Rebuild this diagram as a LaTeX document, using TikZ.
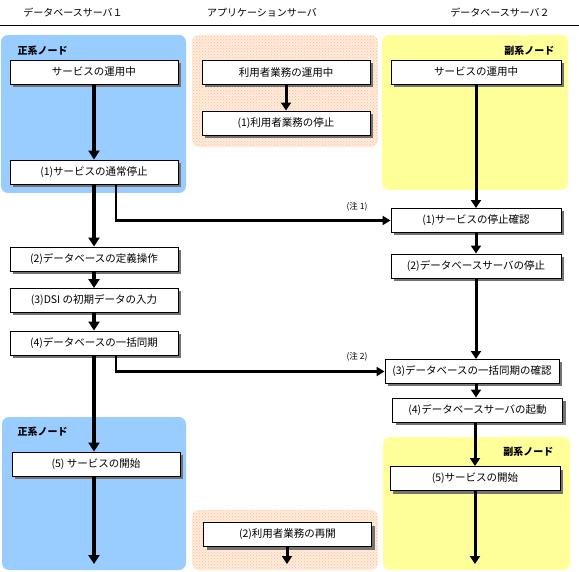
\documentclass[tikz,border=0pt]{standalone}
\usepackage{fontspec}
\setmainfont{Noto Sans CJK JP}
\usepackage{tikz}
\usetikzlibrary{arrows.meta, shadows, calc, patterns}

\definecolor{nodeblue}{RGB}{153,204,255}
\definecolor{nodeyellow}{RGB}{255,255,153}
\definecolor{apppeach}{RGB}{255,236,222}
\definecolor{appdots}{RGB}{255,190,140}

\tikzset{
	stepbox/.style={draw=black, fill=white, line width=0.9pt, minimum width=168pt, minimum height=24pt, inner sep=0pt,
		font=\fontsize{10.5}{12}\selectfont, drop shadow={shadow xshift=3pt, shadow yshift=-3pt, fill=black!55, opacity=1}},
	flow/.style={line width=4pt, -{Triangle[width=11pt,length=9pt]}},
	subflow/.style={line width=3pt, -{Triangle[width=10pt,length=8pt]}},
	notelink/.style={line width=2.2pt, -{Triangle[width=9pt,length=8pt]}},
	region/.style={rounded corners=7pt},
	nodelabel/.style={font=\fontsize{10}{12}\selectfont\bfseries},
	notelabel/.style={font=\fontsize{8.5}{10}\selectfont},
	header/.style={font=\fontsize{10}{12}\selectfont}
}

\begin{document}
\begin{tikzpicture}[x=1pt, y=-1pt]
	\useasboundingbox (0,0) rectangle (579,572);

	% headers
	\node[header] (hdb1) at (73,13) {データベースサーバ１};
	\node[header] (happ) at (262,13) {アプリケーションサーバ};
	\node[header] (hdb2) at (500,13) {データベースサーバ２};
	\draw[line width=1pt] (0,26) -- (579,26);

	% backgrounds
	\fill[nodeblue, region]   (1,35) rectangle (186,193);
	\fill[apppeach, region]   (192,35) rectangle (378,147);
	\fill[pattern=crosshatch dots, pattern color=appdots, region] (192,35) rectangle (378,147);
	\fill[nodeyellow, region] (382,35) rectangle (568,190);
	\fill[nodeblue, region]   (2,417) rectangle (186,570);
	\fill[apppeach, region]   (192,510) rectangle (378,570);
	\fill[pattern=crosshatch dots, pattern color=appdots, region] (192,510) rectangle (378,570);
	\fill[nodeyellow, region] (383,437) rectangle (570,570);

	\node[nodelabel, anchor=west] (main1) at (14,51) {正系ノード};
	\node[nodelabel, anchor=east] (sub1) at (558,51) {副系ノード};
	\node[nodelabel, anchor=west] (main2) at (14,432) {正系ノード};
	\node[nodelabel, anchor=east] (sub2) at (557,452) {副系ノード};

	% server 1
	\node[stepbox] (svc1) at (94,72) {サービスの運用中};
	\node[stepbox] (stop1) at (94,172) {(1)サービスの通常停止};
	\node[stepbox] (def2) at (94,259) {(2)データベースの定義操作};
	\node[stepbox] (dsi3) at (94,300.5) {(3)DSI の初期データの入力};
	\node[stepbox] (sync4) at (94,343) {(4)データベースの一括同期};
	\node[stepbox] (start5) at (96,464) {(5) サービスの開始};
	\coordinate (end1) at (94,564);

	% application server
	\node[stepbox] (use1) at (286,72.5) {利用者業務の運用中};
	\node[stepbox] (halt1) at (286,123) {(1)利用者業務の停止};
	\node[stepbox] (resume2) at (287.5,534.5) {(2)利用者業務の再開};
	\coordinate (end2) at (287,564);

	% server 2
	\node[stepbox, minimum width=170pt] (svc2) at (476,72) {サービスの運用中};
	\node[stepbox, minimum width=170pt] (chk1) at (476,220.5) {(1)サービスの停止確認};
	\node[stepbox, minimum width=170pt] (halt2) at (476,266) {(2)データベースサーバの停止};
	\node[stepbox, minimum width=174pt] (sync3) at (472,371.5) {(3)データベースの一括同期の確認};
	\node[stepbox, minimum width=170pt] (boot4) at (477.5,410) {(4)データベースサーバの起動};
	\node[stepbox, minimum width=170pt] (start5r) at (475,478.5) {(5)サービスの開始};
	\coordinate (end3) at (475,564);

	% flows
	\draw[flow] (svc1) -- (stop1);
	\draw[flow] (stop1) -- (def2);
	\draw[flow] (def2) -- (dsi3);
	\draw[flow] (dsi3) -- (sync4);
	\draw[flow] (sync4) -- (start5.north -| sync4.south);
	\draw[flow] (start5.south -| end1) -- (end1);

	\draw[subflow] (use1) -- (halt1);
	\draw[subflow] (resume2.south -| end2) -- (end2);

	\draw[subflow] (svc2) -- (chk1);
	\draw[subflow] (chk1) -- (halt2);
	\draw[subflow] (halt2.south) -- (halt2.south |- sync3.north);
	\draw[subflow] (halt2.south |- sync3.south) -- (halt2.south |- boot4.north);
	\draw[subflow] (boot4.south -| start5r) -- (start5r);
	\draw[subflow] (start5r) -- (end3);

	% cross-server notes
	\draw[notelink] ([xshift=22pt]stop1.south) |- (chk1.west);
	\node[notelabel] (note1) at (357,207) {(注 1)};
	\draw[notelink] ([xshift=22pt]sync4.south) |- (sync3.west);
	\node[notelabel] (note2) at (357,357) {(注 2)};
\end{tikzpicture}
\end{document}
